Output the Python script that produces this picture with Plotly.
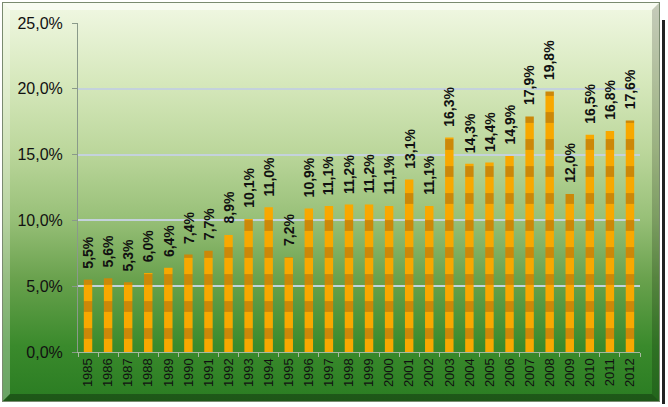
import base64
import plotly.graph_objects as go

years = [str(y) for y in range(1985, 2013)]
values = [5.5, 5.6, 5.3, 6.0, 6.4, 7.4, 7.7, 8.9, 10.1, 11.0, 7.2, 10.9, 11.1, 11.2,
          11.2, 11.1, 13.1, 11.1, 16.3, 14.3, 14.4, 14.9, 17.9, 19.8, 12.0, 16.5, 16.8, 17.6]
y_ticks = [0, 5, 10, 15, 20, 25]
y_tick_text = [f"{v:.1f}%".replace(".", ",") for v in y_ticks]
value_labels = [f"{v:.1f}%".replace(".", ",") for v in values]

W, H = 668, 407
L, R, T, B = 78, 28, 23, 55
pw, ph = W - L - R, H - T - B

svg = f'''<svg xmlns="http://www.w3.org/2000/svg" width="{W}" height="{H}" viewBox="0 0 {W} {H}">
<defs>
<linearGradient id="g" x1="0" y1="0" x2="0" y2="1">
<stop offset="0" stop-color="#f1f8e4"/>
<stop offset="0.2" stop-color="#d6e8bc"/>
<stop offset="0.37" stop-color="#bcd79c"/>
<stop offset="0.54" stop-color="#98c078"/>
<stop offset="0.69" stop-color="#6aa24e"/>
<stop offset="0.86" stop-color="#3a8a2c"/>
<stop offset="1" stop-color="#2a7c22"/>
</linearGradient>
</defs>
<rect x="0" y="0" width="{W}" height="{H}" fill="#ffffff"/>
<rect x="662" y="20" width="3" height="384" fill="#222"/>
<rect x="2" y="2" width="658" height="400" fill="url(#g)"/>
<polygon points="2,2 660,2 652,10 10,10" fill="#ffffff" fill-opacity="0.55"/>
<polygon points="2,2 10,10 10,394 2,402" fill="#ffffff" fill-opacity="0.3"/>
<polygon points="660,2 660,402 652,394 652,10" fill="#000000" fill-opacity="0.18"/>
<polygon points="2,402 660,402 652,394 10,394" fill="#000000" fill-opacity="0.3"/>
<rect x="2.5" y="2.5" width="657" height="399" fill="none" stroke="#7a8a70" stroke-width="1"/>
</svg>'''
src = "data:image/svg+xml;base64," + base64.b64encode(svg.encode()).decode()

fig = go.Figure()
fig.add_trace(go.Bar(
    x=years, y=values,
    width=0.42,
    marker=dict(
        color="#f5a400",
        line=dict(width=0),
        pattern=dict(shape="-", size=27, solidity=0.4, fgcolor="#a06810", bgcolor="#f8a800"),
    ),
    hoverinfo="skip",
))

for i, (v, lab) in enumerate(zip(values, value_labels)):
    fig.add_annotation(
        x=i, y=v, xref="x", yref="y",
        text=lab, textangle=-90, showarrow=False,
        xanchor="center", yanchor="bottom", yshift=9,
        font=dict(family="Liberation Sans, Arial, sans-serif", size=14, color="#111111", weight="bold"),
    )

fig.update_layout(
    width=W, height=H,
    margin=dict(l=L, r=R, t=T, b=B, pad=0),
    paper_bgcolor="rgba(0,0,0,0)",
    plot_bgcolor="rgba(0,0,0,0)",
    showlegend=False,
    bargap=0.55,
    images=[dict(
        source=src, xref="paper", yref="paper",
        x=-L / pw, y=1 + T / ph, sizex=W / pw, sizey=H / ph,
        xanchor="left", yanchor="top", sizing="stretch", layer="below",
    )],
    xaxis=dict(
        type="category",
        range=[-0.5, len(years) - 0.5],
        tickangle=-90,
        tickson="boundaries",
        ticks="outside", ticklen=4, tickcolor="#a8b8a0",
        showline=True, linecolor="#a8b8a0", linewidth=1,
        showgrid=False,
        automargin=False,
        tickfont=dict(family="Liberation Sans, Arial, sans-serif", size=13, color="#111111"),
    ),
    yaxis=dict(
        range=[0, 25],
        tickvals=y_ticks,
        ticktext=y_tick_text,
        ticks="outside", ticklen=5, tickcolor="#8a9a8a",
        showline=True, linecolor="#8a9a8a", linewidth=1,
        showgrid=True, gridcolor="#c4d2dc", gridwidth=1.5,
        zeroline=False,
        automargin=False,
        ticklabelstandoff=6,
        tickfont=dict(family="Liberation Sans, Arial, sans-serif", size=16, color="#111111"),
    ),
)

fig.write_html("out.html", config={"displayModeBar": False},
               post_script="document.body.style.margin='0';document.body.style.overflow='hidden';")
